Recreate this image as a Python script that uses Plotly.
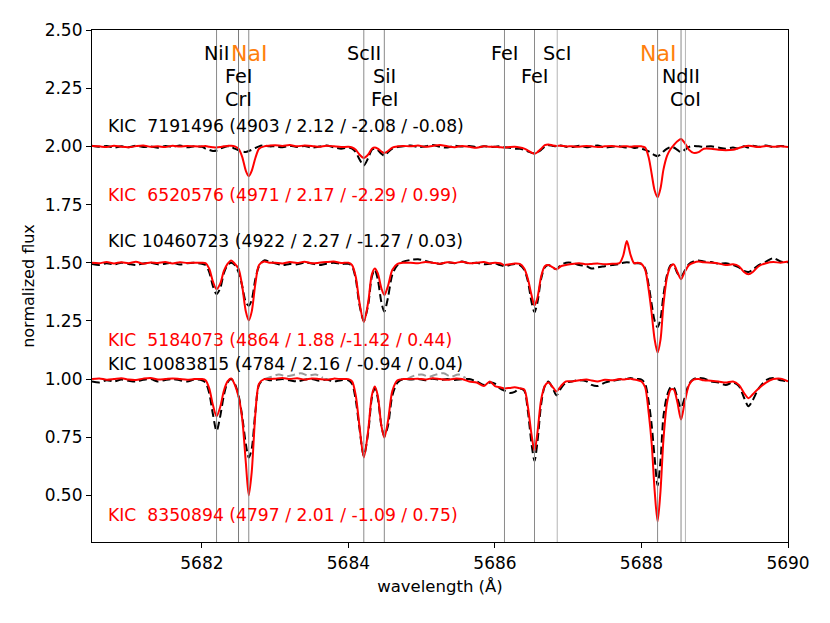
import plotly.graph_objects as go

# ---------------- data ----------------
wavelength = [
    5680.5, 5680.6, 5680.7, 5680.8, 5680.9, 5681.0, 5681.1, 5681.2, 5681.3, 5681.4, 5681.5, 5681.6, 5681.7, 5681.8, 5681.9,
    5682.0, 5682.05, 5682.1, 5682.15, 5682.2, 5682.25, 5682.3, 5682.35, 5682.4, 5682.45, 5682.5, 5682.55, 5682.6, 5682.64, 5682.68, 5682.73, 5682.78, 5682.85, 5682.92,
    5683.0, 5683.1, 5683.2, 5683.3, 5683.4, 5683.5, 5683.6, 5683.7, 5683.8, 5683.9,
    5684.0, 5684.05, 5684.1, 5684.15, 5684.21, 5684.27, 5684.32, 5684.36, 5684.4, 5684.45, 5684.49, 5684.54, 5684.6, 5684.67, 5684.75,
    5684.85, 5684.95, 5685.05, 5685.15, 5685.25, 5685.35, 5685.45, 5685.55, 5685.65, 5685.75, 5685.85, 5685.93,
    5686.0, 5686.07, 5686.13, 5686.2, 5686.27, 5686.34, 5686.4, 5686.45, 5686.5, 5686.54, 5686.58, 5686.63, 5686.68, 5686.73, 5686.79, 5686.84, 5686.9, 5686.97,
    5687.05, 5687.15, 5687.25, 5687.32, 5687.4, 5687.5, 5687.6, 5687.7, 5687.75, 5687.8, 5687.85, 5687.9,
    5687.95, 5688.0, 5688.05, 5688.1, 5688.14, 5688.18, 5688.22, 5688.26, 5688.3, 5688.35, 5688.4, 5688.44, 5688.49, 5688.54, 5688.59, 5688.65, 5688.71, 5688.78, 5688.85,
    5688.95, 5689.05, 5689.15, 5689.25, 5689.33, 5689.4, 5689.46, 5689.52, 5689.6, 5689.7, 5689.8, 5689.9, 5690.0,
]

# top pair (offset 1.0)
flux_top_black = [
    1.003, 0.998, 1.002, 0.995, 1.0, 0.996, 1.003, 0.997, 1.0, 0.994, 1.002, 0.998, 1.004, 0.996, 1.0,
    0.998, 0.99, 0.985, 0.98, 0.982, 0.99, 0.996, 1.0, 0.998, 0.99, 0.983, 0.978, 0.976, 0.98, 0.985, 0.993, 1.0, 1.004, 1.0,
    1.0, 0.996, 1.003, 0.997, 1.002, 0.995, 0.999, 1.004, 0.996, 0.99,
    0.995, 0.99, 0.975, 0.945, 0.918, 0.95, 0.985, 0.99, 0.985, 0.968, 0.96, 0.975, 0.99, 0.997, 1.0,
    1.004, 0.997, 1.0, 1.006, 0.998, 0.995, 1.003, 0.999, 1.002, 0.996, 1.0, 0.998,
    0.998, 1.0, 0.996, 0.994, 0.99, 0.99, 0.985, 0.978, 0.972, 0.97, 0.975, 0.985, 0.998, 1.005, 1.002, 1.0, 1.004, 0.998,
    0.997, 1.003, 0.996, 1.0, 1.004, 0.995, 0.998, 1.0, 0.997, 0.995, 0.998, 0.993,
    0.995, 0.99, 0.985, 0.978, 0.97, 0.962, 0.958, 0.965, 0.978, 0.99, 0.998, 0.995, 0.985, 0.975, 0.985, 0.998, 1.002, 1.0, 0.998,
    1.0, 0.995, 0.99, 0.995, 0.99, 1.0, 0.995, 1.003, 0.998, 1.004, 0.997, 1.002, 0.998,
]
flux_top_red = [
    1.002, 1.0, 0.997, 1.003, 0.998, 0.996, 1.001, 1.004, 0.998, 1.0, 0.997, 1.003, 0.999, 1.002, 1.0,
    1.0, 1.002, 0.998, 0.996, 0.995, 0.997, 1.0, 1.002, 1.003, 1.0, 0.99, 0.955, 0.895, 0.872, 0.895, 0.95, 0.99, 1.0, 1.003,
    1.005, 1.002, 1.006, 1.0, 1.004, 1.002, 0.998, 1.003, 1.0, 0.997,
    0.998, 0.995, 0.985, 0.965, 0.95, 0.965, 0.99, 0.995, 0.99, 0.978, 0.971, 0.98, 0.995, 1.0, 1.002,
    1.0, 1.004, 0.998, 1.002, 1.006, 1.0, 0.996, 1.002, 0.998, 0.994, 1.0, 0.998,
    0.998, 0.996, 0.995, 0.997, 0.998, 0.995, 0.99, 0.982, 0.973, 0.968, 0.975, 0.99, 1.005, 1.008, 1.004, 1.002, 1.003, 1.0,
    1.0, 0.998, 1.002, 1.0, 0.997, 1.0, 1.002, 0.998, 1.0, 1.0, 0.998, 1.0,
    1.0, 1.0, 0.995, 0.95, 0.88, 0.81, 0.781, 0.82, 0.9, 0.96, 0.99, 1.005, 1.022, 1.032, 1.015, 0.985, 0.972, 0.975, 0.99,
    0.99, 0.985, 0.983, 0.985, 0.993, 1.0, 1.003, 1.0, 0.997, 1.002, 0.998, 1.0, 0.997,
]

# middle pair (offset 0.5)
flux_mid_black = [
    0.995, 0.99, 0.998, 0.993, 1.0, 0.995, 0.99, 0.997, 1.0, 0.993, 0.996, 1.0, 0.992, 0.998, 1.0,
    0.995, 0.99, 0.96, 0.9, 0.865, 0.89, 0.955, 0.99, 1.0, 0.99, 0.96, 0.9, 0.83, 0.815, 0.84, 0.93, 0.985, 1.01, 1.005,
    0.998, 0.99, 0.995, 0.993, 1.0, 0.997, 0.99, 0.996, 1.0, 0.995,
    0.995, 0.985, 0.93, 0.82, 0.75, 0.82, 0.94, 0.97, 0.93, 0.83, 0.79, 0.85, 0.95, 0.99, 1.005,
    1.012, 1.015, 1.008, 1.0, 0.995, 1.002, 0.998, 1.005, 0.997, 1.0, 0.993, 0.996,
    0.997, 0.99, 0.985, 0.99, 0.995, 0.99, 0.97, 0.92, 0.83, 0.787, 0.83, 0.93, 0.98, 0.99, 0.978, 0.972, 0.99, 1.0,
    1.0, 0.99, 0.985, 0.975, 0.98, 0.985, 0.99, 0.995, 1.0, 1.002, 1.0, 0.998,
    0.998, 0.995, 0.975, 0.9, 0.82, 0.75, 0.723, 0.76, 0.86, 0.95, 0.99, 0.99, 0.955, 0.94, 0.965, 0.995, 1.005, 1.01, 1.005,
    1.003, 0.995, 0.998, 0.99, 0.98, 0.965, 0.96, 0.97, 0.99, 1.005, 1.02, 1.005, 1.002,
]
flux_mid_red = [
    1.0, 0.998, 1.003, 0.997, 1.002, 0.998, 1.004, 0.996, 1.001, 0.999, 1.003, 0.997, 1.002, 0.999, 1.0,
    1.0, 0.998, 0.975, 0.92, 0.886, 0.91, 0.965, 0.995, 1.01, 0.995, 0.975, 0.9, 0.79, 0.752, 0.79, 0.91, 0.99, 1.005, 1.0,
    1.0, 0.997, 1.003, 0.999, 1.004, 0.998, 1.0, 1.003, 1.005, 0.999,
    1.0, 0.99, 0.94, 0.83, 0.745, 0.83, 0.95, 0.975, 0.955, 0.89, 0.861, 0.9, 0.97, 0.995, 1.0,
    1.0, 0.998, 1.003, 1.0, 0.996, 1.002, 0.999, 1.004, 0.998, 1.0, 1.003, 0.997,
    1.0, 0.998, 0.99, 0.993, 0.997, 0.995, 0.975, 0.93, 0.86, 0.816, 0.85, 0.94, 0.985, 0.99, 0.98, 0.972, 0.985, 0.99,
    0.995, 0.998, 0.993, 0.995, 0.997, 0.993, 0.996, 0.998, 1.03, 1.093, 1.035, 0.998,
    1.0, 0.995, 0.97, 0.88, 0.78, 0.67, 0.614, 0.67, 0.82, 0.94, 0.985, 0.993, 0.96, 0.929, 0.96, 0.99, 1.0, 1.005, 1.002,
    1.0, 0.997, 0.99, 0.993, 0.985, 0.96, 0.95, 0.96, 0.985, 0.998, 1.003, 1.0, 1.005,
]

# bottom pair (offset 0)
flux_bot_black = [
    0.99, 0.985, 0.995, 0.99, 0.998, 0.993, 0.99, 0.997, 1.0, 0.99, 0.996, 1.0, 0.995, 0.99, 0.998,
    0.995, 0.985, 0.94, 0.85, 0.777, 0.84, 0.93, 0.985, 1.0, 0.98, 0.93, 0.84, 0.72, 0.663, 0.7, 0.86, 0.975, 1.0, 0.995,
    0.996, 1.0, 0.995, 0.99, 0.997, 1.0, 0.993, 0.998, 0.99, 0.995,
    0.995, 0.98, 0.91, 0.79, 0.67, 0.77, 0.92, 0.962, 0.92, 0.8, 0.755, 0.8, 0.93, 0.985, 1.0,
    0.998, 1.0, 0.995, 1.002, 0.997, 1.0, 0.996, 0.999, 1.0, 0.99, 0.975, 0.985,
    0.98, 0.96, 0.95, 0.94, 0.945, 0.96, 0.95, 0.86, 0.72, 0.649, 0.73, 0.89, 0.97, 0.99, 0.96, 0.93, 0.96, 0.985,
    0.99, 0.995, 0.99, 0.975, 0.97, 0.985, 0.993, 0.998, 1.003, 1.0, 1.005, 1.0,
    1.0, 0.998, 0.98, 0.9, 0.8, 0.66, 0.543, 0.65, 0.84, 0.93, 0.965, 0.965, 0.92, 0.876, 0.92, 0.98, 1.0, 1.005, 1.003,
    0.99, 0.985, 0.975, 0.985, 0.97, 0.92, 0.883, 0.91, 0.96, 0.995, 1.005, 0.995, 0.99,
]
flux_bot_red = [
    1.0, 1.003, 0.997, 1.0, 1.004, 0.998, 0.996, 1.002, 1.005, 0.998, 1.0, 1.003, 1.0, 0.997, 1.0,
    1.0, 0.995, 0.96, 0.89, 0.84, 0.88, 0.95, 0.99, 1.003, 0.975, 0.925, 0.83, 0.64, 0.5, 0.6, 0.85, 0.98, 1.0, 1.0,
    1.002, 1.005, 1.0, 1.004, 0.998, 1.003, 1.0, 0.997, 1.002, 1.0,
    1.0, 0.99, 0.93, 0.8, 0.663, 0.78, 0.93, 0.968, 0.93, 0.8, 0.748, 0.82, 0.95, 0.995, 1.0,
    1.0, 1.002, 0.998, 1.004, 1.0, 0.997, 1.002, 1.0, 0.99, 0.985, 0.97, 0.99,
    0.97, 0.965, 0.96, 0.962, 0.965, 0.96, 0.955, 0.88, 0.76, 0.691, 0.77, 0.91, 0.97, 0.985, 0.965, 0.947, 0.97, 0.99,
    0.99, 0.995, 0.998, 0.994, 0.99, 0.997, 0.995, 1.0, 0.998, 1.0, 1.002, 0.998,
    0.995, 0.99, 0.965, 0.85, 0.72, 0.52, 0.387, 0.52, 0.74, 0.9, 0.955, 0.955, 0.9, 0.826, 0.9, 0.975, 0.998, 1.0, 0.995,
    0.993, 0.99, 0.985, 0.99, 0.975, 0.94, 0.918, 0.935, 0.96, 0.985, 1.0, 1.002, 0.99,
]

# partially visible grey comparison spectrum (bottom)
grey_wavelength = [5682.85, 5682.95, 5683.05, 5683.15, 5683.25, 5683.35, 5683.45, 5683.55, 5683.65, None,
                   5684.8, 5684.9, 5685.0, 5685.1, 5685.2, 5685.3, 5685.4, 5685.5, 5685.6]
grey_flux = [1.0, 1.01, 1.02, 1.012, 1.018, 1.025, 1.015, 1.02, 1.005, None,
             1.0, 1.015, 1.02, 1.01, 1.02, 1.025, 1.01, 1.02, 1.005]

offsets = [1.0, 0.5, 0.0]

star_labels = [
    "KIC\u00a0\u00a07191496 (4903 / 2.12 / -2.08 / -0.08)",
    "KIC\u00a0\u00a06520576 (4971 / 2.17 / -2.29 / 0.99)",
    "KIC 10460723 (4922 / 2.27 / -1.27 / 0.03)",
    "KIC\u00a0\u00a05184073 (4864 / 1.88 /-1.42 / 0.44)",
    "KIC 10083815 (4784 / 2.16 / -0.94 / 0.04)",
    "KIC\u00a0\u00a08350894 (4797 / 2.01 / -1.09 / 0.75)",
]
star_label_y = [2.089, 1.791, 1.592, 1.167, 1.067, 0.415]
star_label_color = ["black", "red", "black", "red", "black", "red"]

line_wl = [5682.20, 5682.50, 5682.64, 5684.21, 5684.49, 5686.13, 5686.54, 5686.85, 5688.22, 5688.54, 5688.60]
line_color = ["#8a8a8a", "#7a7a7a", "#8a8a8a", "#8a8a8a", "#8a8a8a", "#8a8a8a", "#8a8a8a",
              "#b5b5b5", "#8a8a8a", "#8a8a8a", "#b5b5b5"]

ion_labels = ["NiI", "NaI", "FeI", "CrI", "ScII", "SiI", "FeI", "FeI", "ScI", "FeI", "NaI", "NdII", "CoI"]
ion_wl = [5682.20, 5682.64, 5682.50, 5682.50, 5684.21, 5684.49, 5684.49, 5686.13, 5686.85, 5686.54,
          5688.22, 5688.54, 5688.60]
ion_row = [0, 0, 1, 2, 0, 1, 2, 0, 0, 1, 0, 1, 2]
row_y = [2.40, 2.30, 2.20]

FONT = "DejaVu Sans"
ORANGE = "#ff7f0e"

fig = go.Figure()

pairs = [(flux_top_black, flux_top_red), (flux_mid_black, flux_mid_red), (flux_bot_black, flux_bot_red)]
for (fb, fr), off in zip(pairs, offsets):
    if off == 0.0:
        fig.add_trace(go.Scatter(
            x=grey_wavelength, y=[None if v is None else v + off for v in grey_flux],
            mode="lines", line=dict(color="#9a9a9a", width=2, dash="8px,4px", shape="spline"),
            showlegend=False, hoverinfo="skip", connectgaps=False))
    fig.add_trace(go.Scatter(
        x=wavelength, y=[v + off for v in fb], mode="lines",
        line=dict(color="black", width=2, dash="8px,4px", shape="spline", smoothing=0.8),
        showlegend=False))
    fig.add_trace(go.Scatter(
        x=wavelength, y=[v + off for v in fr], mode="lines",
        line=dict(color="red", width=2, shape="spline", smoothing=0.8),
        showlegend=False))

shapes = []
for w, c in zip(line_wl, line_color):
    shapes.append(dict(type="line", xref="x", yref="paper", x0=w, x1=w, y0=0, y1=1,
                       line=dict(color=c, width=1), layer="above"))

annotations = []
for t, y, c in zip(star_labels, star_label_y, star_label_color):
    annotations.append(dict(x=5680.69, y=y, xref="x", yref="y", text=t, showarrow=False,
                            xanchor="left", yanchor="middle",
                            font=dict(family=FONT, size=17.2, color=c)))
for lab, w, r in zip(ion_labels, ion_wl, ion_row):
    is_na = lab == "NaI"
    annotations.append(dict(x=w, y=row_y[r], xref="x", yref="y", text=lab, showarrow=False,
                            xanchor="center", yanchor="middle",
                            font=dict(family=FONT, size=22 if is_na else 19.2,
                                      color=ORANGE if is_na else "black")))

# the page body has an 8px default margin, so margins are set to place the frame as in the reference
fig.update_layout(
    width=830, height=623,
    margin=dict(l=84, r=50, t=17, b=89),
    paper_bgcolor="white", plot_bgcolor="white",
    font=dict(family=FONT, size=17, color="black"),
    shapes=shapes, annotations=annotations,
    showlegend=False,
)
fig.update_xaxes(range=[5680.5, 5690], tickvals=[5682, 5684, 5686, 5688, 5690],
                 ticktext=["5682", "5684", "5686", "5688", "5690"],
                 showline=True, linecolor="black", linewidth=1.2, mirror=True,
                 ticks="outside", ticklen=5, tickcolor="black", showgrid=False, zeroline=False,
                 title=dict(text="wavelength (Å)", standoff=8, font=dict(size=16.5)))
fig.update_yaxes(range=[0.3, 2.5], tickvals=[0.5, 0.75, 1.0, 1.25, 1.5, 1.75, 2.0, 2.25, 2.5],
                 ticktext=["0.50", "0.75", "1.00", "1.25", "1.50", "1.75", "2.00", "2.25", "2.50"],
                 showline=True, linecolor="black", linewidth=1.2, mirror=True,
                 ticks="outside", ticklen=5, tickcolor="black", showgrid=False, zeroline=False,
                 title=dict(text="normalized flux", standoff=6, font=dict(size=16)))

fig.write_html("out.html")
